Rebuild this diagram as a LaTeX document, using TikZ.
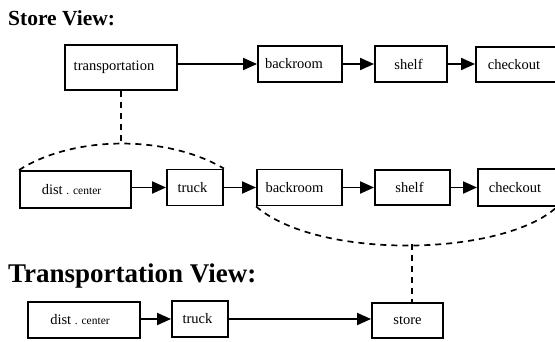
\documentclass[tikz,border=0pt]{standalone}
\usepackage{fontspec}
\setmainfont{Liberation Serif}
\usetikzlibrary{arrows.meta}
\tikzset{
  box/.style={draw=black, line width=1.9pt, inner sep=0pt, font=\fontsize{14.5}{16}\selectfont},
  lshift/.style={execute at end node={\hspace*{#1}}},
  flow/.style={line width=1.9pt, -{Triangle[length=14pt,width=12pt]}},
  link/.style={line width=1.7pt, dash pattern=on 6pt off 5pt},
  title/.style={anchor=base west, inner sep=0pt, font=\fontsize{21.5}{24}\selectfont\bfseries}
}
\newcommand{\distcenter}{dist {\fontsize{11.5}{13}\selectfont . center}}
\begin{document}
\begin{tikzpicture}[x=1pt,y=-1pt]
\useasboundingbox (0,0) rectangle (555,342);
% titles
\node[title] (t1) at (8,26) {Store View:};
\node[title, font=\fontsize{27}{28}\selectfont\bfseries] (t2) at (8,283) {Transportation View:};
% top row
\node[box, lshift=14pt, minimum width=112pt, minimum height=45pt] (trans) at (121,67.5) {transportation};
\node[box, lshift=12pt, minimum width=84pt, minimum height=36pt] (back1) at (300,64) {backroom};
\node[box, lshift=5pt, minimum width=72pt, minimum height=36pt] (shelf1) at (411,64) {shelf};
\node[box, lshift=4pt, minimum width=80pt, minimum height=35pt] (check1) at (516,64.5) {checkout};
\draw[flow] (trans.east |- back1.west) -- (back1.west);
\draw[flow] (back1.east) -- (shelf1.west);
\draw[flow] (shelf1.east) -- (shelf1.east -| check1.west);
% middle row
\node[box, lshift=8pt, minimum width=111pt, minimum height=37pt] (dc2) at (75.5,189.5) {\distcenter};
\node[box, lshift=5pt, minimum width=56pt, minimum height=36pt] (truck2) at (195,187.5) {truck};
\node[box, lshift=10pt, minimum width=85pt, minimum height=36pt] (back2) at (299.5,187.5) {backroom};
\node[box, lshift=6pt, minimum width=75pt, minimum height=35pt] (shelf2) at (412.5,187.5) {shelf};
\node[box, lshift=4pt, minimum width=78pt, minimum height=37pt] (check2) at (517,187.5) {checkout};
\draw[flow] (dc2.east |- truck2.west) -- (truck2.west);
\draw[flow] (truck2.east) -- (back2.west);
\draw[flow] (back2.east) -- (shelf2.west);
\draw[flow] (shelf2.east) -- (check2.west);
% bottom row
\node[box, lshift=8pt, minimum width=112pt, minimum height=36pt] (dc3) at (84,320) {\distcenter};
\node[box, lshift=5pt, minimum width=56pt, minimum height=36pt] (truck3) at (200,319) {truck};
\node[box, minimum width=71pt, minimum height=35pt] (store) at (407.5,320.5) {store};
\draw[flow] (dc3.east |- truck3.west) -- (truck3.west);
\draw[flow] (truck3.east) -- (truck3.east -| store.west);
% dashed correspondences
\coordinate (archtop) at (121,144);
\coordinate (arcbot) at (412,244);
\draw[link] (dc2.north west) .. controls (72,136) and (165,134) .. (truck2.north east);
\draw[link] (trans.south) -- (archtop);
\draw[link] (back2.south west) .. controls (318,260) and (502,257) .. (check2.south east);
\draw[link] (arcbot) -- (arcbot |- store.north);
\end{tikzpicture}
\end{document}
